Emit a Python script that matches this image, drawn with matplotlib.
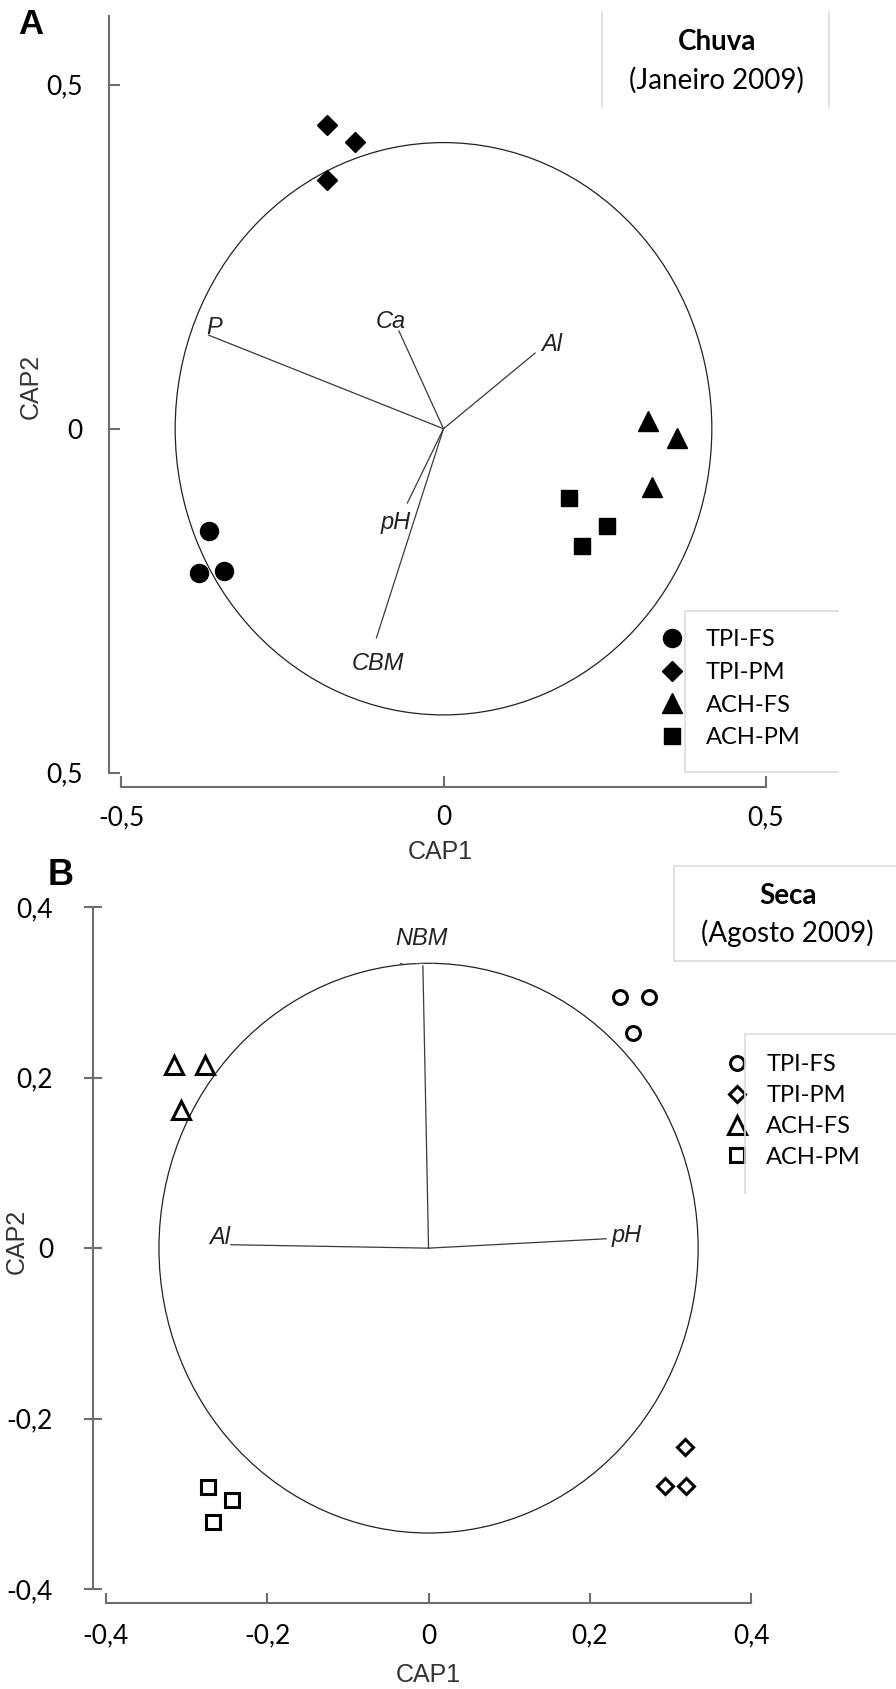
import matplotlib
matplotlib.use("Agg")
import matplotlib.pyplot as plt
from matplotlib.lines import Line2D
from matplotlib.patches import Circle
from matplotlib.transforms import Bbox

# ---------------- data ----------------
groups = ["TPI-FS", "TPI-PM", "ACH-FS", "ACH-PM"]

# Panel A - Chuva (Janeiro 2009)
a_tpi_fs_x = [-0.363, -0.379, -0.340]
a_tpi_fs_y = [-0.149, -0.209, -0.207]
a_tpi_pm_x = [-0.180, -0.137, -0.181]
a_tpi_pm_y = [0.442, 0.417, 0.361]
a_ach_fs_x = [0.317, 0.362, 0.324]
a_ach_fs_y = [0.011, -0.014, -0.085]
a_ach_pm_x = [0.195, 0.253, 0.215]
a_ach_pm_y = [-0.100, -0.141, -0.171]

a_vec_names = ["P", "Ca", "Al", "pH", "CBM"]
a_vec_x = [-0.364, -0.069, 0.142, -0.056, -0.104]
a_vec_y = [0.136, 0.142, 0.110, -0.108, -0.304]
a_lab_x = [-0.356, -0.081, 0.168, -0.074, -0.102]
a_lab_y = [0.147, 0.156, 0.123, -0.137, -0.341]
a_radius = 0.416

# Panel B - Seca (Agosto 2009)
b_tpi_fs_x = [0.2375, 0.273, 0.2536]
b_tpi_fs_y = [0.295, 0.295, 0.252]
b_tpi_pm_x = [0.318, 0.293, 0.319]
b_tpi_pm_y = [-0.233, -0.279, -0.279]
b_ach_fs_x = [-0.3155, -0.2766, -0.3063]
b_ach_fs_y = [0.2146, 0.2146, 0.1618]
b_ach_pm_x = [-0.273, -0.243, -0.267]
b_ach_pm_y = [-0.280, -0.295, -0.321]

b_vec_names = ["NBM", "Al", "pH"]
b_vec_x = [-0.007, -0.245, 0.220]
b_vec_y = [0.331, 0.004, 0.011]
b_lab_x = [-0.0085, -0.259, 0.246]
b_lab_y = [0.363, 0.013, 0.015]
b_radius = 0.334

a_xticks = [-0.5, 0, 0.5]
a_xticklabels = ["-0,5", "0", "0,5"]
a_yticks = [0.5, 0, -0.5]
a_yticklabels = ["0,5", "0", "0,5"]
b_ticks = [-0.4, -0.2, 0, 0.2, 0.4]
b_ticklabels = ["-0,4", "-0,2", "0", "0,2", "0,4"]

# ---------------- styling ----------------
W, H = 896, 1689
DPI = 100
SANS = ["Liberation Sans", "DejaVu Sans"]
CAL = ["Lato", "DejaVu Sans"]
AXC = "#6e6e6e"
BOXC = "#dcdcdc"

fig = plt.figure(figsize=(W / DPI, H / DPI), dpi=DPI)


def fx(px):
    return px / W


def fy(py):
    return 1 - py / H


def rect(x0, y0, x1, y1):
    return [fx(x0), fy(y1), (x1 - x0) / W, (y1 - y0) / H]


def fig_line(xs, ys, color=BOXC, lw=1.2):
    fig.add_artist(Line2D([fx(v) for v in xs], [fy(v) for v in ys],
                          color=color, lw=lw, transform=fig.transFigure))


def style_axis(ax, out_left, out_bottom, xdir, xlen, ydir, ylen, xpad, ypad):
    for s in ["top", "right"]:
        ax.spines[s].set_visible(False)
    for s in ["left", "bottom"]:
        ax.spines[s].set_color(AXC)
        ax.spines[s].set_linewidth(1.5)
    ax.spines["left"].set_position(("outward", out_left * 72 / DPI))
    ax.spines["bottom"].set_position(("outward", out_bottom * 72 / DPI))
    ax.tick_params(axis="x", direction=xdir, length=xlen, width=1.5, color=AXC,
                   pad=xpad, labelsize=19)
    ax.tick_params(axis="y", direction=ydir, length=ylen, width=1.5, color=AXC,
                   pad=ypad, labelsize=19)
    for lab in ax.get_xticklabels() + ax.get_yticklabels():
        lab.set_family(CAL)


filled = dict(color="black", linestyle="none")
markers = [("o", 13), ("D", 10), ("^", 14), ("s", 12)]
open_markers = [("o", 10), ("D", 8.5), ("^", 12.5), ("s", 9.5)]

# ================= Panel A =================
axA = fig.add_axes(rect(121, 16, 766, 772.7))
axA.set_xlim(-0.5, 0.5)
axA.set_ylim(-0.5, 0.6)
axA.spines["left"].set_bounds(-0.5, 0.6)
axA.spines["bottom"].set_bounds(-0.5, 0.5)
axA.set_xticks(a_xticks)
axA.set_xticklabels(a_xticklabels)
axA.set_yticks(a_yticks)
axA.set_yticklabels(a_yticklabels)
style_axis(axA, 12, 14.5, "in", 8, "in", 8, 13, 19)

axA.add_patch(Circle((0, 0), a_radius, fill=False, ec="#222222", lw=0.9))
for vx, vy in zip(a_vec_x, a_vec_y):
    axA.plot([0, vx], [0, vy], color="#3a3a3a", lw=0.9)
for name, lx, ly in zip(a_vec_names, a_lab_x, a_lab_y):
    axA.text(lx, ly, name, ha="center", va="center", fontsize=17,
             style="italic", family=SANS, color="#222222")

a_series = [(a_tpi_fs_x, a_tpi_fs_y), (a_tpi_pm_x, a_tpi_pm_y),
            (a_ach_fs_x, a_ach_fs_y), (a_ach_pm_x, a_ach_pm_y)]
a_handles = []
for (xs, ys), (m, ms), name in zip(a_series, markers, groups):
    axA.plot(xs, ys, marker=m, markersize=ms, clip_on=False, **filled)
    a_handles.append(Line2D([], [], marker=m, markersize=ms, label=name, **filled))

axA.set_xlabel("CAP1", fontsize=18, family=SANS, color="#333333")
axA.set_ylabel("CAP2", fontsize=18, family=SANS, color="#333333")
axA.xaxis.set_label_coords(0.4946, -0.089)
axA.yaxis.set_label_coords(-0.121, 0.511)

legA = axA.legend(handles=a_handles, loc="upper left",
                  bbox_to_anchor=(fx(660), fy(629)), bbox_transform=fig.transFigure,
                  frameon=False, borderpad=0, borderaxespad=0, handlelength=1.0,
                  handletextpad=0.95, labelspacing=0.5,
                  prop={"family": CAL, "size": 17})

# ================= Panel B =================
axB = fig.add_axes(rect(105.7, 907, 751.4, 1589.3))
axB.set_xlim(-0.4, 0.4)
axB.set_ylim(-0.4, 0.4)
axB.set_xticks(b_ticks)
axB.set_xticklabels(b_ticklabels)
axB.set_yticks(b_ticks)
axB.set_yticklabels(b_ticklabels)
style_axis(axB, 13, 13.5, "in", 7, "inout", 13, 15, 22)

axB.add_patch(Circle((0, 0), b_radius, fill=False, ec="#222222", lw=0.9))
for vx, vy in zip(b_vec_x, b_vec_y):
    axB.plot([0, vx], [0, vy], color="#3a3a3a", lw=0.9)
for name, lx, ly in zip(b_vec_names, b_lab_x, b_lab_y):
    axB.text(lx, ly, name, ha="center", va="center", fontsize=17,
             style="italic", family=SANS, color="#222222")

# partly hidden duplicate of the NBM label sitting on the circle
ghost = axB.text(b_lab_x[0], b_radius - 0.012, b_vec_names[0], ha="center",
                 va="center", fontsize=17, style="italic", family=SANS,
                 color="#555555")
ghost.set_clip_on(True)
ghost.set_clip_box(Bbox.from_extents(370, H - 964, 450, H - 956))

b_series = [(b_tpi_fs_x, b_tpi_fs_y), (b_tpi_pm_x, b_tpi_pm_y),
            (b_ach_fs_x, b_ach_fs_y), (b_ach_pm_x, b_ach_pm_y)]
b_handles = []
for (xs, ys), (m, ms), name in zip(b_series, open_markers, groups):
    style = dict(marker=m, markersize=ms, mfc="white", mec="black", mew=2.2,
                 linestyle="none")
    axB.plot(xs, ys, clip_on=False, **style)
    b_handles.append(Line2D([], [], label=name, **style))

axB.set_xlabel("CAP1", fontsize=18, family=SANS, color="#333333")
axB.set_ylabel("CAP2", fontsize=18, family=SANS, color="#333333")
axB.xaxis.set_label_coords(0.5, -0.108)
axB.yaxis.set_label_coords(-0.119, 0.510)

legB = axB.legend(handles=b_handles, loc="upper left",
                  bbox_to_anchor=(fx(725), fy(1054)), bbox_transform=fig.transFigure,
                  frameon=False, borderpad=0, borderaxespad=0, handlelength=1.0,
                  handletextpad=0.75, labelspacing=0.42,
                  prop={"family": CAL, "size": 17})

# ---------------- panel letters, title boxes, legend frames ----------------
fig.text(fx(31), fy(24.5), "A", fontsize=25, fontweight="bold", family=SANS,
         ha="center", va="center")
fig.text(fx(61), fy(876), "B", fontsize=26, fontweight="bold", family=SANS,
         ha="center", va="center")

fig.text(fx(717), fy(42), "Chuva", fontsize=20, fontweight="bold", family=CAL,
         ha="center", va="center")
fig.text(fx(716), fy(80), "(Janeiro 2009)", fontsize=20, family=CAL,
         ha="center", va="center")
fig_line([601.7, 601.7], [12, 107])
fig_line([829, 829], [12, 107])

fig.text(fx(788), fy(896), "Seca", fontsize=20, fontweight="bold", family=CAL,
         ha="center", va="center")
fig.text(fx(787.5), fy(933), "(Agosto 2009)", fontsize=20, family=CAL,
         ha="center", va="center")
fig_line([896, 674, 674, 896], [866, 866, 961, 961])

fig_line([838, 685, 685, 838], [611, 611, 772, 772])
fig_line([896, 745, 745], [1034, 1034, 1193])

fig.savefig("out.png", dpi=DPI)
